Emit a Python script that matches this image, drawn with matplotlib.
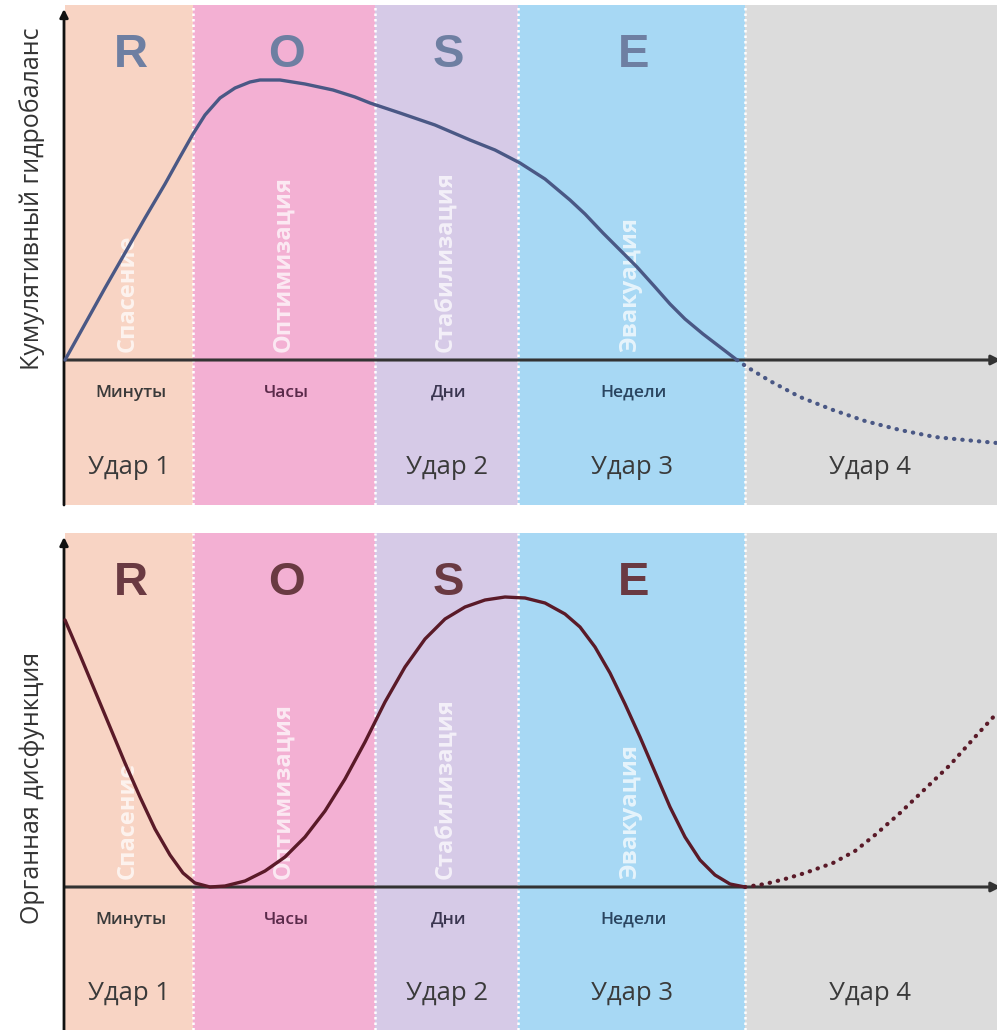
import matplotlib.pyplot as plt

# фазы ROSE
phases = ["R", "O", "S", "E"]
phase_names = ["Спасение", "Оптимизация", "Стабилизация", "Эвакуация"]
time_labels = ["Минуты", "Часы", "Дни", "Недели"]
time_colors = ["#3a3a3a", "#5a2a4a", "#3a3550", "#2a4560"]
hit_labels = ["Удар 1", "", "Удар 2", "Удар 3", "Удар 4"]
band_edges = [0, 128, 310, 453, 680, 932]
band_colors = ["#f8d4c4", "#f3b0d3", "#d6cae7", "#a7d8f4", "#dcdcdc"]

# кумулятивный гидробаланс (верхний график)
fb_x = [0, 20, 40, 60, 80, 100, 115, 128, 140, 155, 170, 185, 195, 215, 240, 268,
        290, 305, 335, 370, 405, 430, 455, 480, 505, 520, 538, 555, 572, 590, 605,
        620, 638, 655, 672]
fb_y = [0, 36, 72, 107, 142, 176, 203, 226, 245, 262, 272, 278, 280, 280, 276, 270,
        263, 257, 247, 235, 220, 210, 197, 181, 160, 146, 127, 110, 93, 73, 56,
        41, 26, 13, 0]
fb_dot_x = [672, 682, 705, 735, 768, 800, 835, 870, 900, 932]
fb_dot_y = [0, -7, -21, -37, -50, -61, -70, -77, -80, -83]

# органная дисфункция (нижний график)
od_x = [0, 15, 30, 45, 60, 75, 90, 105, 118, 130, 145, 160, 180, 200, 220, 240, 260,
        280, 300, 320, 340, 360, 380, 400, 420, 440, 460, 480, 500, 515, 530, 545,
        560, 575, 590, 605, 620, 635, 650, 665, 680]
od_y = [267, 232, 196, 160, 124, 90, 58, 32, 14, 4, 0, 1, 6, 16, 30, 50, 76,
        108, 145, 185, 220, 248, 268, 280, 287, 290, 289, 284, 273, 260, 240, 214,
        183, 150, 115, 80, 50, 27, 12, 3, 0]
od_dot_x = [680, 700, 720, 740, 768, 790, 810, 835, 860, 885, 910, 932]
od_dot_y = [0, 3, 8, 14, 24, 36, 52, 74, 98, 122, 150, 174]

plt.rcParams['font.family'] = ['Open Sans', 'DejaVu Sans']

fig = plt.figure(figsize=(9.97, 10.30), dpi=100)
W, H = 997.0, 1030.0


def panel(top_px, bot_px, axis_px, letter_color, line_color, cx, cy, dx, dy,
          ylabel, ylabel_px):
    ax = fig.add_axes([65 / W, (H - bot_px) / H, 932 / W, (bot_px - top_px) / H])
    ax.set_xlim(0, 932)
    ax.set_ylim(-(bot_px - axis_px), axis_px - top_px)
    ax.axis('off')
    for i, col in enumerate(band_colors):
        ax.axvspan(band_edges[i], band_edges[i + 1], color=col, lw=0, zorder=0)
    for e in band_edges[1:-1]:
        ax.axvline(e, color='white', ls=(0, (1, 1.2)), lw=1.8, zorder=1)
    top = axis_px - top_px
    for i, p in enumerate(phases):
        mid = (band_edges[i] + band_edges[i + 1]) / 2
        ax.text(mid + 2, top - 50, p, ha='center', va='center', fontsize=34,
                fontweight='bold', family='Liberation Sans', color=letter_color, zorder=2)
        ax.text(mid - 1, 8, phase_names[i], rotation=90, ha='center', va='bottom',
                fontsize=17, fontweight='bold', color='white', alpha=0.72, zorder=2)
        ax.text(mid + 2, -33, time_labels[i], ha='center', va='center', fontsize=12.5,
                fontweight='semibold', color=time_colors[i], zorder=2)
    for i, h in enumerate(hit_labels):
        if h:
            mid = (band_edges[i] + band_edges[i + 1]) / 2
            if i == 4:
                mid = 805
            ax.text(mid, -107, h, ha='center', va='center', fontsize=18.5,
                    color='#3a3a3a', zorder=2)
    # оси
    ax.annotate('', xy=(936, 0), xytext=(0, 0), annotation_clip=False, zorder=3,
                arrowprops=dict(arrowstyle='-|>', color='#333333', lw=2.2,
                                mutation_scale=14, shrinkA=0, shrinkB=0))
    ax.annotate('', xy=(-1, top - 4), xytext=(-1, -(bot_px - axis_px)),
                annotation_clip=False, zorder=3,
                arrowprops=dict(arrowstyle='-|>', color='#111111', lw=2.0,
                                mutation_scale=12, shrinkA=0, shrinkB=0))
    ax.plot(cx, cy, color=line_color, lw=2.4, solid_capstyle='round',
            solid_joinstyle='round', zorder=4, clip_on=False)
    ax.plot(dx, dy, color=line_color, lw=3.0, ls=(0, (0.1, 1.9)),
            dash_capstyle='round', zorder=4, clip_on=False)
    fig.text(32 / W, 1 - ylabel_px / H, ylabel, rotation=90,
             ha='center', va='center', fontsize=18, color='#333333')
    return ax


panel(5, 505, 360, '#6e7fa2', '#4a5885', fb_x, fb_y, fb_dot_x, fb_dot_y,
      "Кумулятивный гидробаланс", 199)
panel(533, 1030, 887, '#6a3a42', '#5a1a28', od_x, od_y, od_dot_x, od_dot_y,
      "Органная дисфункция", 788)

fig.savefig("out.png", dpi=100, facecolor='white')
